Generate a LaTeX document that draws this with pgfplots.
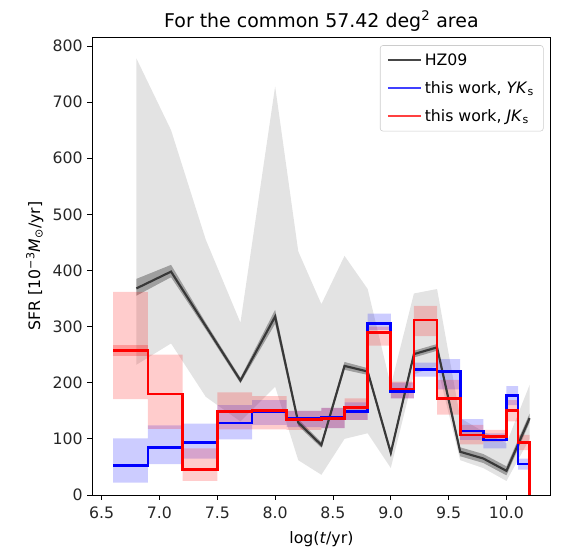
\documentclass[border=0pt]{standalone}
\usepackage{fontspec}
\setmainfont{DejaVu Sans}
\usepackage{pgfplots}
\pgfplotsset{compat=1.18}
\usepgfplotslibrary{fillbetween}
\usepackage{pgfplotstable}
\definecolor{legblack}{RGB}{70,70,70}
\definecolor{legblue}{RGB}{64,64,255}
\definecolor{legred}{RGB}{255,64,64}

% HZ09: x, line, outer band (lo,hi), inner band (lo2,hi2)
\pgfplotstableread{
x    y    lo   hi   lo2  hi2
6.8  368  232  778  355  385
7.1  398  270  650  388  410
7.4  301  175  455  295  307
7.7  204  131  307  199  209
8.0  318  193  728  305  330
8.2  129  62   434  123  135
8.4  89   36   340  84   94
8.6  230  100  426  223  237
8.8  220  110  367  214  226
9.0  75   48   195  69   81
9.2  251  215  359  245  257
9.4  263  230  367  257  269
9.6  77   62   137  69   85
9.8  65   48   113  57   73
10.0 43   25   92   35   51
10.2 137  100  196  129  145
}\hz

% this work, YKs (bin left edges; last row closes the last bin)
\pgfplotstableread{
x    y    lo   hi
6.6  53   22   101
6.9  85   55   124
7.2  94   65   127
7.5  128  99   160
7.8  148  125  169
8.1  137  121  150
8.4  138  119  155
8.6  149  134  165
8.8  306  294  323
9.0  184  172  200
9.2  223  211  236
9.4  220  188  242
9.6  114  98   135
9.8  98   83   110
10.0 177  160  194
10.1 55   45   65
10.2 0    45   65
}\blu

% this work, JKs
\pgfplotstableread{
x    y    lo   hi
6.6  257  171  362
6.9  180  118  250
7.2  46   25   83
7.5  149  117  183
7.8  150  117  176
8.1  134  116  150
8.4  136  119  155
8.6  156  134  172
8.8  289  266  300
9.0  189  172  202
9.2  312  283  337
9.4  172  143  205
9.6  107  90   125
9.8  104  95   116
10.0 150  131  169
10.1 93   80   107
10.2 0    80   107
}\rd

\begin{document}
\begin{tikzpicture}
\begin{axis}[
  at={(0,0)}, anchor=south west,
  scale only axis, width=343.5pt, height=343.5pt,
  xmin=6.42, xmax=10.38, ymin=0, ymax=816,
  xtick={6.5,7.0,7.5,8.0,8.5,9.0,9.5,10.0},
  ytick={0,100,200,300,400,500,600,700,800},
  /pgf/number format/assume math mode=true,
  tick label style={font=\fontsize{11.8}{13}\selectfont, black!85},
  xticklabel style={yshift=-1.5pt, /pgf/number format/.cd, fixed, fixed zerofill, precision=1},
  tick align=outside, major tick length=3.75pt,
  tick style={black, line width=0.6pt},
  xtick pos=bottom, ytick pos=left,
  axis line style={black, line width=0.6pt},
  title={For the common 57.42 deg\textsuperscript{2} area},
  title style={font=\fontsize{14.2}{16}\selectfont, yshift=-5pt},
  xlabel={log(\textit{t}/yr)},
  xlabel style={font=\fontsize{11.8}{14}\selectfont, yshift=-3pt},
  ylabel={SFR [10\textsuperscript{−3}\textit{M}\textsubscript{⊙}/yr]},
  ylabel style={font=\fontsize{11.8}{14}\selectfont},
  legend style={at={(0.985,0.982)}, anchor=north east, draw=black!20, rounded corners=2pt,
    fill=white, fill opacity=0.85, text opacity=1, draw opacity=1, font=\fontsize{11.8}{14}\selectfont,
    row sep=6.5pt, inner xsep=5pt, inner ysep=4pt},
  legend cell align=left,
  legend image code/.code={\draw[#1] (0pt,0pt) -- (25pt,0pt);},
]
\addlegendimage{draw=legblack, line width=1.4pt}
\addlegendentry{HZ09}
\addlegendimage{draw=legblue, line width=1.4pt}
\addlegendentry{this work, \textit{YK}\textsubscript{s}}
\addlegendimage{draw=legred, line width=1.4pt}
\addlegendentry{this work, \textit{JK}\textsubscript{s}}

% HZ09 bands and line
\addplot[draw=none, name path=hzhi, forget plot] table[x=x, y=hi]{\hz};
\addplot[draw=none, name path=hzlo, forget plot] table[x=x, y=lo]{\hz};
\addplot[fill=gray, fill opacity=0.22, draw=none, forget plot] fill between[of=hzhi and hzlo];
\addplot[draw=none, name path=hzhi2, forget plot] table[x=x, y=hi2]{\hz};
\addplot[draw=none, name path=hzlo2, forget plot] table[x=x, y=lo2]{\hz};
\addplot[fill=black, fill opacity=0.3, draw=none, forget plot] fill between[of=hzhi2 and hzlo2];
\addplot[black!78, line width=1.6pt, forget plot] table[x=x, y=y]{\hz};

% YKs
\addplot[const plot, draw=none, name path=bhi, forget plot] table[x=x, y=hi]{\blu};
\addplot[const plot, draw=none, name path=blo, forget plot] table[x=x, y=lo]{\blu};
\addplot[fill=blue, fill opacity=0.2, draw=none, forget plot] fill between[of=bhi and blo];
\addplot[const plot, blue, line width=2pt, forget plot] table[x=x, y=y]{\blu};

% JKs
\addplot[const plot, draw=none, name path=rhi, forget plot] table[x=x, y=hi]{\rd};
\addplot[const plot, draw=none, name path=rlo, forget plot] table[x=x, y=lo]{\rd};
\addplot[fill=red, fill opacity=0.2, draw=none, forget plot] fill between[of=rhi and rlo];
\addplot[fill=red, fill opacity=0.25, draw=none, forget plot] coordinates {(6.6,247) (6.9,247) (6.9,267) (6.6,267)};
\addplot[const plot, red, line width=2pt, forget plot] table[x=x, y=y]{\rd};
\end{axis}
\pgfresetboundingbox
\path (-69.3pt,-39.75pt) rectangle (358.2pt,371.25pt);
\end{tikzpicture}
\end{document}
